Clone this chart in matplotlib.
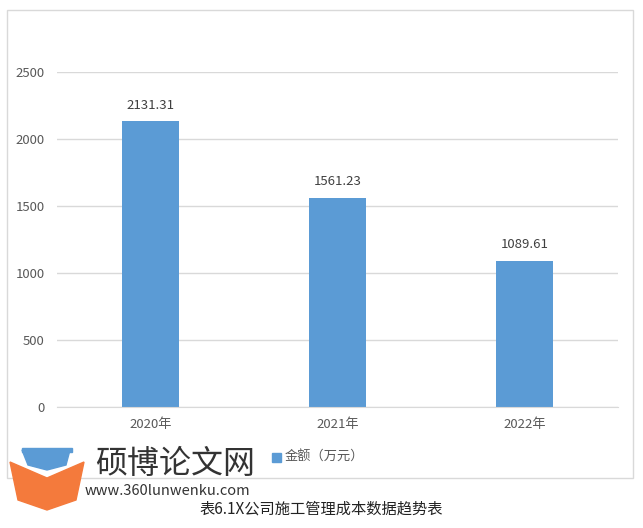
import matplotlib
matplotlib.use("Agg")
import matplotlib.pyplot as plt
from matplotlib.patches import Rectangle, Polygon

plt.rcParams['font.family'] = ['Noto Sans CJK SC', 'DejaVu Sans']

categories = ["2020年", "2021年", "2022年"]
values = [2131.31, 1561.23, 1089.61]
yticks = [0, 500, 1000, 1500, 2000, 2500]
legend_label = "金额（万元）"
caption = "表6.1X公司施工管理成本数据趋势表"

W, H = 643, 528
fig = plt.figure(figsize=(W / 100, H / 100), dpi=100)

def fx(x):
    return x / W

def fy(y):
    return 1 - y / H

# chart frame
fig.patches.append(Rectangle((fx(7), fy(478)), fx(633) - fx(7), fy(10) - fy(478),
                             transform=fig.transFigure, fill=False,
                             edgecolor="#d9d9d9", linewidth=1))

ax = fig.add_axes([fx(57), fy(407), fx(618) - fx(57), fy(72) - fy(407)])
x = range(len(categories))
bars = ax.bar(x, values, width=0.31, color="#5b9bd5", zorder=3)
ax.set_xlim(-0.5, 2.5)
ax.set_ylim(0, 2500)
ax.set_yticks(yticks)
ax.set_xticks(list(x))
ax.set_xticklabels(categories)
for s in ["top", "right", "left"]:
    ax.spines[s].set_visible(False)
ax.spines["bottom"].set_color("#d9d9d9")
ax.spines["bottom"].set_zorder(4)
ax.grid(axis="y", color="#d9d9d9", linewidth=1, zorder=0)
ax.tick_params(length=0, labelsize=9.5, colors="#595959")
ax.tick_params(axis="y", pad=9)
ax.tick_params(axis="x", pad=8)
for b, v in zip(bars, values):
    ax.annotate(f"{v:.2f}", (b.get_x() + b.get_width() / 2, v),
                xytext=(0, 7), textcoords="offset points",
                ha="center", va="bottom", fontsize=9.5, color="#404040")

# legend
fig.patches.append(Rectangle((fx(272), fy(462)), fx(9), 9 / H,
                             transform=fig.transFigure, color="#5b9bd5"))
fig.text(fx(285), fy(457), legend_label, fontsize=9.5, color="#595959",
         ha="left", va="center")

# watermark logo
fig.patches.append(Polygon([(fx(10), fy(462)), (fx(47), fy(478)), (fx(84), fy(462)),
                            (fx(76), fy(500)), (fx(47), fy(510)), (fx(18), fy(500))],
                           closed=True, transform=fig.transFigure,
                           color="#f47a3c", zorder=5))
fig.patches.append(Polygon([(fx(22), fy(450)), (fx(70), fy(450)), (fx(66), fy(465)),
                            (fx(47), fy(470)), (fx(28), fy(465))],
                           closed=True, transform=fig.transFigure,
                           color="#5b9bd5", zorder=5))
fig.patches.append(Rectangle((fx(22), fy(452)), fx(50), 4 / H,
                             transform=fig.transFigure, color="#5b9bd5", zorder=5))
fig.text(fx(95), fy(464), "硕博论文网", fontsize=23, color="#333333",
         ha="left", va="center", zorder=6)
fig.text(fx(85), fy(491), "www.360lunwenku.com", fontsize=10.5, color="#333333",
         ha="left", va="center", zorder=6)

# caption
fig.text(fx(321), fy(509), caption, fontsize=11, color="#222222",
         ha="center", va="center")

fig.savefig("out.png", dpi=100)
